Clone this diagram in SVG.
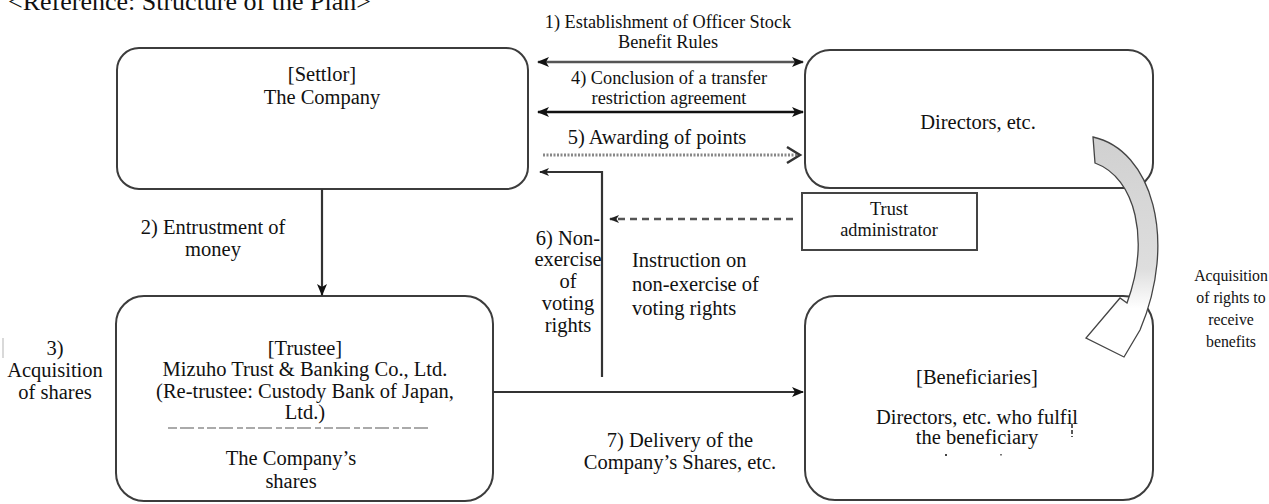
<svg xmlns="http://www.w3.org/2000/svg" width="1269" height="504" viewBox="0 0 1269 504">
<defs>
<style>
.box{fill:#fff;stroke:#3c3c3c;stroke-width:2}
.t{font-family:"Liberation Serif","Times New Roman",serif;font-size:20.5px;fill:#111;text-anchor:middle}
.l{font-family:"Liberation Serif","Times New Roman",serif;font-size:20.5px;fill:#111;text-anchor:start}
.s{font-size:18.3px}
.r{font-size:15.8px}
.ln{fill:none;stroke:#333;stroke-width:2.2}
</style>
<marker id="ah" viewBox="0 0 12 10" refX="11" refY="5" markerWidth="12" markerHeight="10" markerUnits="userSpaceOnUse" orient="auto-start-reverse"><path d="M0,0 L12,5 L0,10 L3,5 Z" fill="#111"/></marker>
<marker id="ahs" viewBox="0 0 10 8" refX="9" refY="4" markerWidth="10" markerHeight="8" markerUnits="userSpaceOnUse" orient="auto-start-reverse"><path d="M0,0 L10,4 L0,8 L2.5,4 Z" fill="#222"/></marker>
<linearGradient id="cg" x1="0" y1="0" x2="0" y2="1">
<stop offset="0" stop-color="#d0d0d0"/>
<stop offset="0.6" stop-color="#dedede"/>
<stop offset="0.78" stop-color="#ffffff"/>
</linearGradient>
</defs>
<rect width="1269" height="504" fill="#fff"/>
<text x="8" y="10" font-family="Liberation Serif,serif" font-size="26" fill="#111">&lt;Reference: Structure of the Plan&gt;</text>
<line x1="3" y1="338" x2="3" y2="358" stroke="#ccc" stroke-width="1.5"/>

<g id="settlor">
<rect class="box" x="117" y="48" width="411" height="141" rx="22"/>
<text class="t" x="322" y="81">[Settlor]</text>
<text class="t" x="322" y="104">The Company</text>
</g>

<g id="directors">
<rect class="box" x="805" y="50" width="348" height="138" rx="25"/>
<text class="t" x="978" y="129">Directors, etc.</text>
</g>

<g id="trust-admin">
<rect x="802" y="193" width="175" height="57" fill="#fff" stroke="#444" stroke-width="2"/>
<text class="t s" x="889" y="215">Trust</text>
<text class="t s" x="889" y="236">administrator</text>
</g>

<g id="trustee">
<rect class="box" x="116" y="296" width="377" height="205" rx="28"/>
<text class="t" x="305" y="355">[Trustee]</text>
<text class="t" x="305" y="376">Mizuho Trust &amp; Banking Co., Ltd.</text>
<text class="t" x="305" y="398">(Re-trustee: Custody Bank of Japan,</text>
<text class="t" x="305" y="419">Ltd.)</text>
<line x1="168" y1="428" x2="430" y2="428" stroke="#aaa" stroke-width="2" stroke-dasharray="9 3 14 4 6 3"/>
<text class="t" x="291" y="465">The Company’s</text>
<text class="t" x="291" y="488">shares</text>
</g>

<g id="beneficiaries">
<rect class="box" x="805" y="296" width="348" height="204" rx="30"/>
<text class="t" x="977" y="384">[Beneficiaries]</text>
<text class="t" x="977" y="424">Directors, etc. who fulfil</text>
<text class="t" x="977" y="444">the beneficiary</text>
<rect x="945" y="454" width="2" height="2" fill="#444"/>
<rect x="1000" y="454" width="2" height="1.5" fill="#777"/>
<line x1="1072" y1="424" x2="1072" y2="437" stroke="#222" stroke-width="1.5" stroke-dasharray="4 2"/>
</g>

<g id="connectors">
<line x1="538" y1="62" x2="803" y2="62" stroke="#555" stroke-width="2.5" marker-start="url(#ah)" marker-end="url(#ah)"/>
<line x1="538" y1="112" x2="803" y2="112" stroke="#111" stroke-width="2.5" marker-start="url(#ah)" marker-end="url(#ah)"/>
<line x1="543" y1="155" x2="798" y2="155" stroke="#888" stroke-width="3" stroke-dasharray="2 1.5"/>
<polyline points="787,147 800,155 787,163" fill="none" stroke="#333" stroke-width="2.5"/>
<polyline class="ln" points="602,377 602,172 540,172" marker-end="url(#ahs)"/>
<line x1="793" y1="219" x2="610" y2="219" stroke="#555" stroke-width="2.5" stroke-dasharray="7 5" marker-end="url(#ahs)"/>
<line class="ln" x1="322" y1="189" x2="322" y2="295" marker-end="url(#ah)"/>
<line class="ln" x1="493" y1="392" x2="803" y2="392" marker-end="url(#ah)"/>
<path d="M1093,137 C1152,150 1178,240 1140,330 L1124,357 L1086,338 L1120,298 L1127,303 C1150,240 1136,178 1095,163 Z" fill="url(#cg)" stroke="#444" stroke-width="1.3"/>

<text class="t s" x="668" y="28">1) Establishment of Officer Stock</text>
<text class="t s" x="668" y="48">Benefit Rules</text>
<text class="t s" x="669" y="84">4) Conclusion of a transfer</text>
<text class="t s" x="669" y="104">restriction agreement</text>
<text class="t" x="657" y="144">5) Awarding of points</text>
<text class="t" x="213" y="234">2) Entrustment of</text>
<text class="t" x="213" y="256">money</text>
<text class="t" x="55" y="355">3)</text>
<text class="t" x="55" y="377">Acquisition</text>
<text class="t" x="55" y="399">of shares</text>
<text class="t" x="568" y="245">6) Non-</text>
<text class="t" x="568" y="266">exercise</text>
<text class="t" x="568" y="288">of</text>
<text class="t" x="568" y="310">voting</text>
<text class="t" x="568" y="332">rights</text>
<text class="l" x="632" y="267">Instruction on</text>
<text class="l" x="632" y="291">non-exercise of</text>
<text class="l" x="632" y="315">voting rights</text>
<text class="t" x="680" y="447">7) Delivery of the</text>
<text class="t" x="680" y="469">Company’s Shares, etc.</text>
<text class="t r" x="1231" y="281">Acquisition</text>
<text class="t r" x="1231" y="303">of rights to</text>
<text class="t r" x="1231" y="325">receive</text>
<text class="t r" x="1231" y="347">benefits</text>
</g>
</svg>
